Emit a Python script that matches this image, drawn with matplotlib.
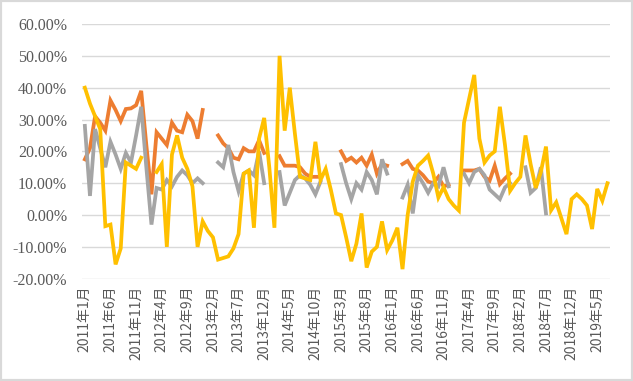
import numpy as np
import matplotlib
matplotlib.use("Agg")
import matplotlib.pyplot as plt
from matplotlib.patches import Rectangle

nan = np.nan

# categories: monthly, 2011-01 .. 2019-07
months = [f"{2011 + k // 12}年{k % 12 + 1}月" for k in range(103)]
tick_labels = ["2011年1月", "2011年6月", "2011年11月", "2012年4月", "2012年9月",
               "2013年2月", "2013年7月", "2013年12月", "2014年5月", "2014年10月",
               "2015年3月", "2015年8月", "2016年1月", "2016年6月", "2016年11月",
               "2017年4月", "2017年9月", "2018年2月", "2018年7月", "2018年12月",
               "2019年5月"]

orange = [17.5, 21, 31, 29, 26.5, 36, 33, 29.5, 33.3, 33.5, 34.5, 39, 22, 6.5, 26, 24, 22, 29, 26.5, 26, 31.5, 29.5, 24, 33,
          nan, nan,
          25, 22.5, 21, 18, 17.5, 21, 20, 20, 23.5, 19.5,
          nan, nan,
          18.5, 15.5, 15.5, 15.5, 15, 13, 12, 12, 12,
          nan, nan, nan,
          20, 17, 18, 16.5, 18, 15.5, 19, 13, 16, 15.5,
          nan, nan,
          16, 17, 14.5, 14, 12.5, 10.5, 10, 12, 9, 9.5,
          nan, nan,
          14, 14, 14, 14.5, 12, 10.8, 15.5, 9.7, 11.5, 13] + [nan] * 19

gray = [28, 6, 27, 21, 15, 23, 19, 14.5, 19.5, 16.5, 25, 34, 15, -3, 8.5, 8, 11, 9, 12, 14, 12.5, 10, 11.5, 10,
        nan, nan,
        16.5, 15, 22, 13.5, 7.5, 13, 14, 12.5, 20, 10,
        nan, nan,
        13.5, 3, 7, 11, 12.5, 11.5, 9.5, 6.5, 10.5,
        nan, nan, nan,
        16, 10, 5, 10, 8, 13.5, 11, 6.5, 17.5, 13,
        nan, nan,
        5.5, 9.5, 0.5, 12.5, 10, 7, 10, 9, 15, 9,
        nan, nan,
        13, 10, 13.5, 14.5, 12.5, 8, 6.5, 5, 8.7, 10,
        nan, nan,
        15, 7, 8.5, 15, 0.5] + [nan] * 12

yellow = [40, 35, 31, 27, -3.5, -3, -15.5, -10.5, 16.5, 15.5, 14.5, 18, nan, nan,
          13.5, 16, -10, 19, 25, 18, 14.5, 9, -10, -2,
          -5, -7, -14, -13.5, -13, -10.5, -6, 13, 14, -4, 24, 30.5,
          15, -4, 50, 26.5, 40, 25.5, 12, 11.5, 11, 23, 11, 14.5,
          8, 0.5, 0, -7, -14.5, -9, 0.5, -16.5, -11.5, -10, -2, -11,
          -8, -4, -17, 0, 10.5, 15.5, 17, 18.7, 13, 5.5, 8.7, 5,
          3, 1.4, 29, 36.5, 44, 24, 16.5, 18.7, 20, 34, 22, 7.6,
          10, 12, 25, 16, 8.5, 13.5, 21.5, 1.5, 4, -1, -6, 5, 6.5, 5, 3,
          -4.4, 8.2, 4.5, 10]

y_ticks = [-20, -10, 0, 10, 20, 30, 40, 50, 60]

fig = plt.figure(figsize=(6.33, 3.81), dpi=100)
ax = fig.add_axes([0.130, 0.2685, 0.8337, 0.6685])

x = np.arange(len(months))
lw = 2.7
ax.plot(x, orange, color="#ED7D31", lw=lw, solid_joinstyle="miter", zorder=3)
ax.plot(x, gray, color="#A5A5A5", lw=lw, solid_joinstyle="miter", zorder=4)
ax.plot(x, yellow, color="#FFC000", lw=lw, solid_joinstyle="miter", zorder=5)

ax.set_xlim(-0.5, len(months) - 0.5)
ax.set_ylim(-20, 60)
ax.set_yticks(y_ticks)
ax.set_yticklabels([f"{v:.2f}%" for v in y_ticks], family="Liberation Serif",
                   fontsize=11.5, color="#595959")
tick_pos = [months.index(t) for t in tick_labels]
ax.set_xticks(tick_pos)
ax.set_xticklabels(tick_labels, rotation=90, family=["Noto Sans CJK SC", "DejaVu Sans"],
                   fontsize=10, color="#595959")
ax.tick_params(axis="both", length=0)
ax.tick_params(axis="y", pad=11)
ax.tick_params(axis="x", pad=5)
ax.grid(axis="y", color="#D9D9D9", lw=1)
ax.set_axisbelow(True)
for s in ax.spines.values():
    s.set_visible(False)

fig.patches.append(Rectangle((0, 0), 1, 1, transform=fig.transFigure, fill=False,
                             edgecolor="#D9D9D9", lw=3))
fig.savefig("out.png", dpi=100)
